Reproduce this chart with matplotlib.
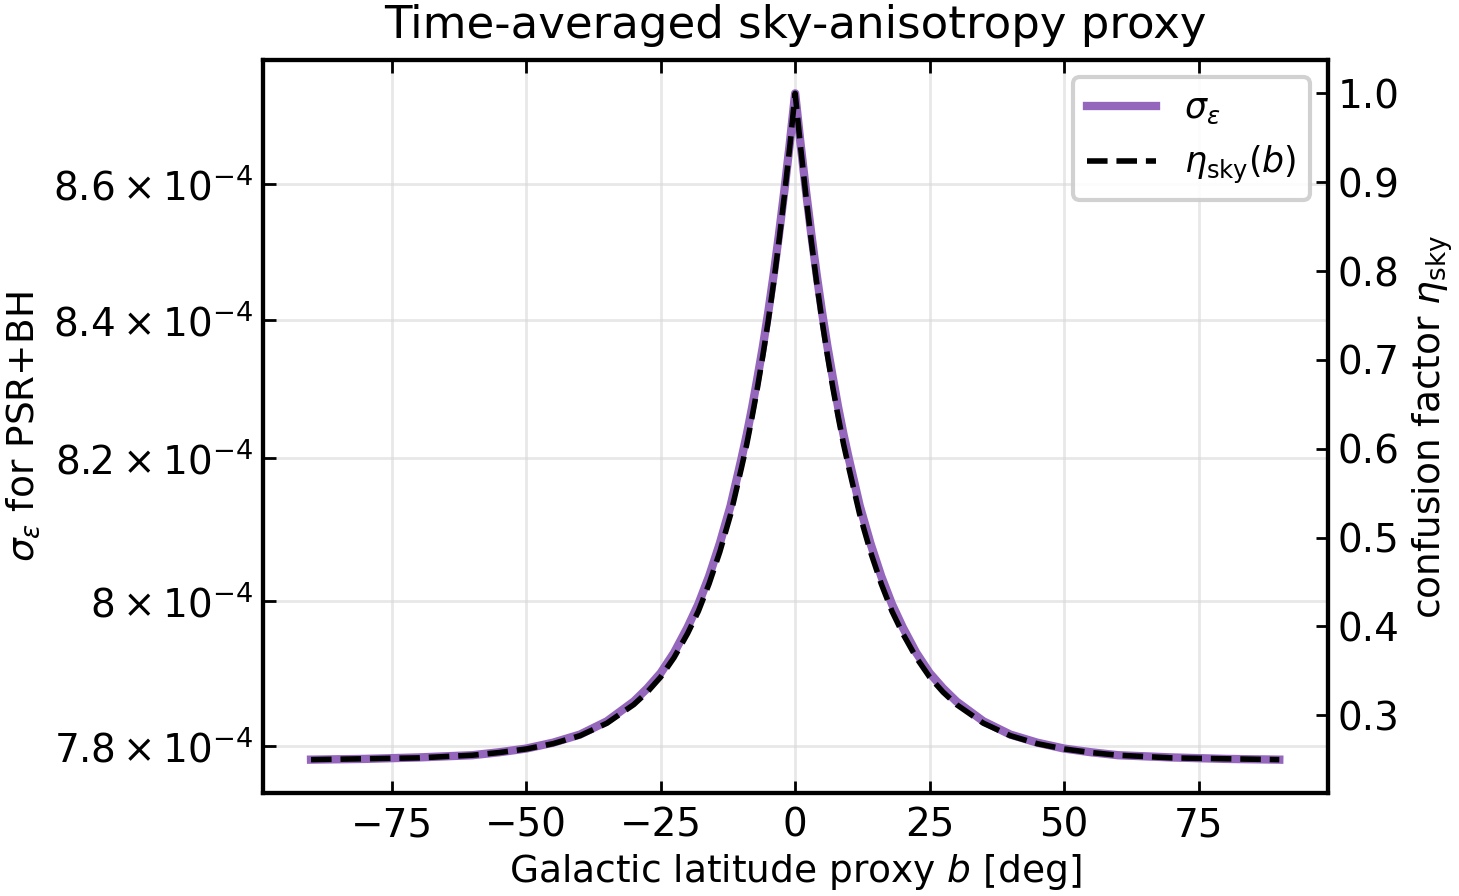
import numpy as np
import matplotlib
matplotlib.use("Agg")
import matplotlib.pyplot as plt
from matplotlib.ticker import FixedLocator, FixedFormatter, NullLocator

# values
b_deg = [-90, -80, -70, -60, -55, -50, -45, -40, -35, -30, -27.5, -25, -22.5, -20, -18, -16, -14, -12,
         -10, -9, -8, -7, -6, -5, -4, -3, -2, -1, 0,
         1, 2, 3, 4, 5, 6, 7, 8, 9, 10,
         12, 14, 16, 18, 20, 22.5, 25, 27.5, 30, 35, 40, 45, 50, 55, 60, 70, 80, 90]
eta_sky = [0.250, 0.251, 0.252, 0.255, 0.258, 0.262, 0.268, 0.277, 0.291, 0.312, 0.326, 0.343, 0.365,
           0.392, 0.417, 0.448, 0.484, 0.526,
           0.578, 0.605, 0.636, 0.669, 0.705, 0.744, 0.787, 0.834, 0.885, 0.940, 1.000,
           0.940, 0.885, 0.834, 0.787, 0.744, 0.705, 0.669, 0.636, 0.605, 0.578,
           0.526, 0.484, 0.448, 0.417, 0.392, 0.365, 0.343, 0.326, 0.312, 0.291, 0.277, 0.268, 0.262,
           0.258, 0.255, 0.252, 0.251, 0.250]
sigma_eps = [7.782, 7.783, 7.785, 7.788, 7.792, 7.797, 7.805, 7.816, 7.834, 7.861, 7.879, 7.900, 7.928,
             7.963, 7.995, 8.034, 8.080, 8.133,
             8.199, 8.234, 8.273, 8.316, 8.361, 8.411, 8.466, 8.526, 8.591, 8.661, 8.737,
             8.661, 8.591, 8.526, 8.466, 8.411, 8.361, 8.316, 8.273, 8.234, 8.199,
             8.133, 8.080, 8.034, 7.995, 7.963, 7.928, 7.900, 7.879, 7.861, 7.834, 7.816, 7.805, 7.797,
             7.792, 7.788, 7.785, 7.783, 7.782]  # x 1e-4

left_ticks = [7.8, 8.0, 8.2, 8.4, 8.6]
left_tick_labels = [r'$7.8\times10^{-4}$', r'$8\times10^{-4}$', r'$8.2\times10^{-4}$',
                    r'$8.4\times10^{-4}$', r'$8.6\times10^{-4}$']

b = np.array(b_deg)
sig = np.array(sigma_eps) * 1e-4
eta = np.array(eta_sky)

fig = plt.figure(figsize=(7.295, 4.48), dpi=200)
ax = fig.add_axes([0.180, 0.115, 0.730, 0.818])
ax2 = ax.twinx()

l1, = ax.plot(b, sig, color='#9467bd', lw=3.0, label=r'$\sigma_\varepsilon$')
l2, = ax2.plot(b, eta, color='black', lw=2.0, ls='--', label=r'$\eta_{\rm sky}(b)$')

ax.set_yscale('log')
ax.yaxis.set_major_locator(FixedLocator([v * 1e-4 for v in left_ticks]))
ax.yaxis.set_major_formatter(FixedFormatter(left_tick_labels))
ax.yaxis.set_minor_locator(NullLocator())

ax.grid(True, color='#d9d9d9', alpha=0.6, lw=1.0)
ax.set_xlabel(r'Galactic latitude proxy $b$ [deg]', fontsize=13.5, labelpad=2.5)
ax.set_ylabel(r'$\sigma_\varepsilon$ for PSR+BH', fontsize=13.5)
ax2.set_ylabel(r'confusion factor $\eta_{\rm sky}$', fontsize=13.5)
ax.set_title('Time-averaged sky-anisotropy proxy', fontsize=16.2, pad=8)

ax.tick_params(axis='both', which='both', direction='in', top=True, labelsize=14, length=4.5, width=1.0)
ax.tick_params(axis='x', pad=5)
ax2.tick_params(axis='y', direction='in', labelsize=14, length=4.5, width=1.0)
for a in (ax, ax2):
    for s in a.spines.values():
        s.set_linewidth(1.5)

leg = ax2.legend([l1, l2], [l1.get_label(), l2.get_label()], loc='upper right', fontsize=12.5,
                 framealpha=0.9)
leg.get_frame().set_linewidth(1.5)

fig.savefig('out.png', dpi=200)
